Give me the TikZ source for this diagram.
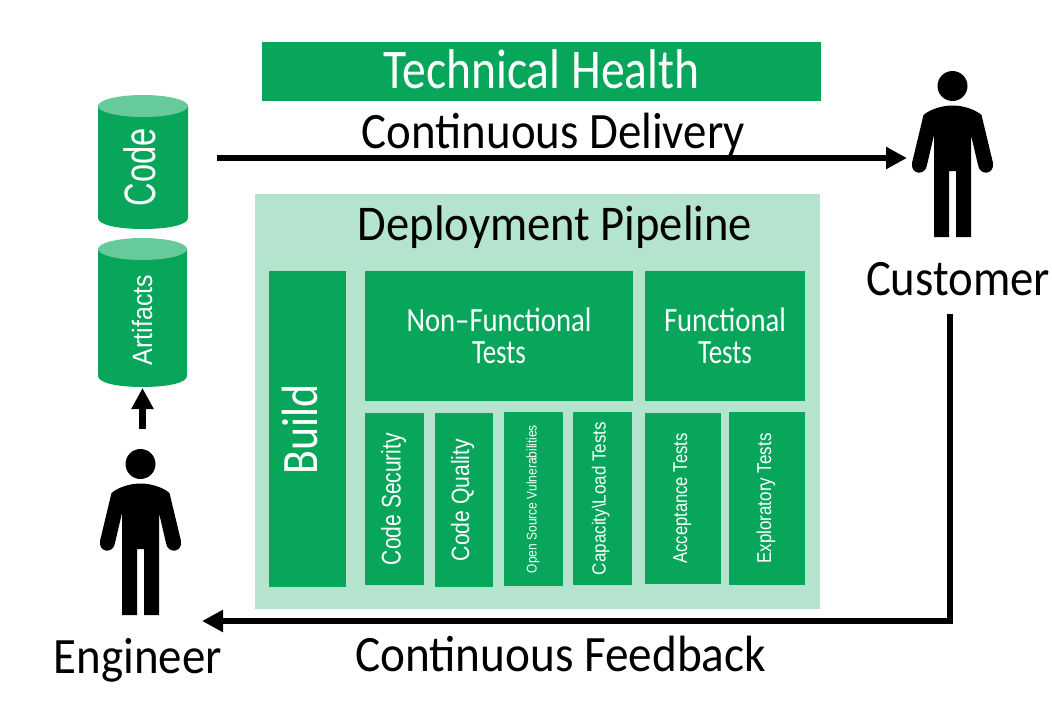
\documentclass[tikz,border=0pt]{standalone}
\usepackage{fontspec}
\usepackage{graphicx}
\setmainfont{Carlito}
\newfontfamily\arialish{Liberation Sans}
\usetikzlibrary{arrows.meta}
\definecolor{pgreen}{HTML}{07A65B}
\definecolor{plight}{HTML}{B4E4CD}
\definecolor{pmid}{HTML}{66CA9B}
% text squeezed to a given width, natural height kept
\newcommand{\fitw}[2]{\resizebox{#1pt}{\height}{#2}}
\newcommand{\fs}[1]{\fontsize{#1}{#1}\selectfont}
\newcommand{\canshape}[4]{% centre x, half width, top y, bottom y (ellipse extremes)
  \fill[pgreen] (#1-#2,#3+11) -- (#1-#2,#4-11) .. controls (#1-#2,#4-4) and (#1-#2*0.55,#4) .. (#1,#4)
    .. controls (#1+#2*0.55,#4) and (#1+#2,#4-4) .. (#1+#2,#4-11) -- (#1+#2,#3+11) -- cycle;
  \fill[pmid] (#1,#3+11) ellipse [x radius=#2,y radius=11];
}
\tikzset{
  x=1pt,y=-1pt,
  box/.style={fill=pgreen,text=white,inner sep=0pt,outer sep=0pt,align=center},
  vbox/.style={box,rotate=90},
  twoline/.style={box,font=\fontsize{34}{32}\selectfont},
  bl/.style={text height=#1,text depth=0pt},
  caption/.style={text=black,inner sep=0pt,anchor=base},
  cantext/.style={text=white,inner sep=0pt,outer sep=0pt,rotate=90},
  flow/.style={line width=6.5pt,-{Triangle[length=21pt,width=21pt]}},
  person/.pic={
    \fill (0,0) circle (15);
    \fill (-29,29) .. controls (-22,23) and (-10,19.5) .. (0,19.5)
      .. controls (10,19.5) and (22,23) .. (29,29)
      -- (40.5,77) .. controls (42,89) and (27,90) .. (25.5,79)
      -- (18.5,49) -- (18.5,151) -- (3.5,151) -- (3.5,85) -- (-3.5,85) -- (-3.5,151) -- (-18.5,151) -- (-18.5,49)
      -- (-25.5,79) .. controls (-27,90) and (-42,89) .. (-40.5,77) -- cycle;
  }
}
\begin{document}
\begin{tikzpicture}
\useasboundingbox (0,0) rectangle (1052,715);
% pipeline background
\node[fill=plight,inner sep=0pt,outer sep=0pt,minimum width=565pt,minimum height=415pt] (pipeline) at (537.5,401.5) {};
\node[caption] (pipetitle) at (555,240) {\fitw{394}{\fs{50}Deployment Pipeline}};
% header
\node[box,minimum width=559pt,minimum height=59pt,bl=34pt] (health) at (541.5,71.5) {\fitw{316}{\fs{56}Technical Health}};
\node[caption] (delivery) at (553.5,148) {\fitw{383}{\fs{51}Continuous Delivery}};
% stores
\canshape{143}{45}{95}{229}
\canshape{142.5}{44.5}{238}{387}
\node[cantext,bl=24pt] (code) at (143,167) {\fitw{78}{\arialish\fs{44}Code}};
\node[cantext,bl=16pt] (artifacts) at (144,320) {\fitw{90}{\arialish\fs{28}Artifacts}};
% stages
\node[vbox,minimum width=316pt,minimum height=77pt,bl=19pt] (build) at (307.5,429) {\fitw{90}{\fs{51}Build}};
\node[twoline,minimum width=268pt,minimum height=130pt] (nonfunc) at (499,336) {\fitw{185}{\fs{34}Non--Functional}\\\fitw{54}{\fs{34}Tests}};
\node[twoline,minimum width=160pt,minimum height=130pt] (func) at (725,336) {\fitw{122}{\fs{34}Functional}\\\fitw{54}{\fs{34}Tests}};
% tests
\node[vbox,minimum width=172pt,minimum height=59pt,bl=12pt] (security) at (394.5,499) {\fitw{132}{\arialish\fs{27}Code Security}};
\node[vbox,minimum width=174pt,minimum height=58pt,bl=10pt] (quality) at (464,500) {\fitw{122}{\arialish\fs{25}Code Quality}};
\node[vbox,minimum width=174pt,minimum height=59pt,bl=6pt] (oss) at (533.5,499) {\fitw{148}{\arialish\fs{14}Open Source Vulnerabilities}};
\node[vbox,minimum width=173pt,minimum height=59pt,bl=6pt] (capacity) at (602.5,498.5) {\fitw{153}{\arialish\fs{19}Capacity\textbackslash Load Tests}};
\node[vbox,minimum width=171pt,minimum height=76pt,bl=8pt] (acceptance) at (683,498.5) {\fitw{130}{\arialish\fs{20}Acceptance Tests}};
\node[vbox,minimum width=173pt,minimum height=76pt,bl=8pt] (exploratory) at (767,498.5) {\fitw{130}{\arialish\fs{20}Exploratory Tests}};
% people
\pic at (140.5,464) {person};
\pic at (952.5,86) {person};
\node[caption] (engineer) at (138,673) {\fitw{168}{\fs{51}Engineer}};
\node[caption] (customer) at (958,295) {\fitw{184}{\fs{51}Customer}};
\node[caption] (feedback) at (560.5,671) {\fitw{411}{\fs{51}Continuous Feedback}};
% connector ends
\coordinate (deliverystart) at (217,158);
\coordinate (deliveryend) at (907,158);
\coordinate (feedbackstart) at (950,314);
\coordinate (feedbackcorner) at (950,621);
\coordinate (feedbackend) at (202,621);
\coordinate (commitstart) at (142.5,429);
\coordinate (commitend) at (142.5,388);
\draw[flow] (deliverystart) -- (deliveryend);
\draw[flow] (feedbackstart) -- (feedbackcorner) -- (feedbackend);
\draw[flow] (commitstart) -- (commitend);
\end{tikzpicture}
\end{document}
